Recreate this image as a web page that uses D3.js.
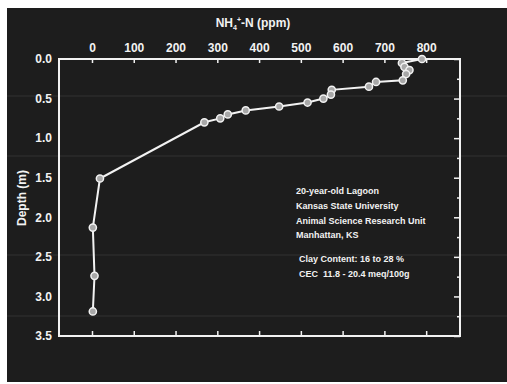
<!DOCTYPE html>
<html>
<head>
<meta charset="utf-8">
<script src="https://cdn.jsdelivr.net/npm/d3@7"></script>
<style>
  body { margin: 0; background: #fff; }
  svg { display: block; }
  text { font-family: "Liberation Sans", Arial, sans-serif; fill: #f2f2f2; white-space: pre; }
</style>
</head>
<body>
<div id="chart"></div>
<script>
// NH4+-N concentration (ppm) against depth (m)
const depth = [0.00, 0.05, 0.10, 0.14, 0.19, 0.27, 0.29, 0.35, 0.39, 0.45, 0.50, 0.55,
               0.60, 0.65, 0.70, 0.75, 0.80, 1.51, 2.13, 2.74, 3.19];
const nh4 = [790, 742, 748, 760, 752, 744, 680, 663, 574, 572, 554, 516,
             448, 368, 325, 307, 269, 19, 2, 6, 2];

const xTicks = [0, 100, 200, 300, 400, 500, 600, 700, 800];
const yTicks = [0.0, 0.5, 1.0, 1.5, 2.0, 2.5, 3.0, 3.5];
const yMinorTicks = [0.25, 0.75, 1.25, 1.75, 2.25, 2.75, 3.25];

const notes = ["20-year-old Lagoon", "Kansas State University",
               "Animal Science Research Unit", "Manhattan, KS"];
const soilNotes = ["Clay Content: 16 to 28 %", "CEC  11.8 - 20.4 meq/100g"];

const W = 507, H = 384;
const margin = {top: 59, right: 47, bottom: 48, left: 59};
const width = W - margin.left - margin.right;
const height = H - margin.top - margin.bottom;

const data = depth.map((d, i) => ({depth: d, value: nh4[i]}));

const svg = d3.select("#chart").append("svg")
  .attr("width", W)
  .attr("height", H);

// dark photographic panel
svg.append("rect")
  .attr("x", 7).attr("y", 8)
  .attr("width", W - 7).attr("height", 374)
  .attr("fill", "#1d1d1d");

// faint scan lines
[96, 156, 255, 316].forEach(y => {
  svg.append("line")
    .attr("x1", 7).attr("x2", W)
    .attr("y1", y).attr("y2", y)
    .attr("stroke", "#333").attr("stroke-width", 1);
});

const g = svg.append("g")
  .attr("transform", "translate(" + margin.left + "," + margin.top + ")");

const xScale = d3.scaleLinear().domain([-79, 881]).range([0, width]);
const yScale = d3.scaleLinear().domain([0, 3.5]).range([0, height]);

// frame
g.append("rect")
  .attr("width", width).attr("height", height)
  .attr("fill", "none")
  .attr("stroke", "#f2f2f2")
  .attr("stroke-width", 2);

function styleAxis(sel) {
  sel.select(".domain").remove();
  sel.selectAll(".tick line").attr("stroke", "#f2f2f2").attr("stroke-width", 1.5);
  sel.selectAll(".tick text")
    .attr("fill", "#f2f2f2")
    .style("font-size", "12px")
    .style("font-weight", "bold");
}

g.append("g")
  .call(d3.axisTop(xScale).tickValues(xTicks).tickSize(-4).tickPadding(7))
  .call(styleAxis);

g.append("g")
  .attr("transform", "translate(0," + height + ")")
  .call(d3.axisBottom(xScale).tickValues(xTicks).tickSize(-5).tickFormat(""))
  .call(styleAxis);

g.append("g")
  .call(d3.axisLeft(yScale).tickValues(yTicks).tickFormat(d3.format(".1f")).tickSize(0).tickPadding(7))
  .call(styleAxis);

g.append("g")
  .attr("transform", "translate(" + width + ",0)")
  .call(d3.axisRight(yScale).tickValues(yTicks).tickSize(-6).tickFormat(""))
  .call(styleAxis);

g.append("g")
  .attr("transform", "translate(" + width + ",0)")
  .call(d3.axisRight(yScale).tickValues(yMinorTicks).tickSize(-3).tickFormat(""))
  .call(styleAxis);

// axis titles
const title = svg.append("text")
  .attr("x", 253).attr("y", 27)
  .attr("text-anchor", "middle")
  .style("font-size", "12px")
  .style("font-weight", "bold");
title.append("tspan").text("NH");
title.append("tspan").attr("dy", 3).style("font-size", "7px").text("4");
title.append("tspan").attr("dy", -8).style("font-size", "7px").text("+");
title.append("tspan").attr("dy", 5).text("-N (ppm)");

svg.append("text")
  .attr("transform", "translate(26,198) rotate(-90)")
  .attr("text-anchor", "middle")
  .style("font-size", "12px")
  .style("font-weight", "bold")
  .text("Depth (m)");

// profile line and markers
const line = d3.line()
  .x(d => xScale(d.value))
  .y(d => yScale(d.depth));

g.append("path")
  .datum(data)
  .attr("d", line)
  .attr("fill", "none")
  .attr("stroke", "#f2f2f2")
  .attr("stroke-width", 2);

g.selectAll(".point")
  .data(data)
  .enter()
  .append("circle")
  .attr("class", "point")
  .attr("cx", d => xScale(d.value))
  .attr("cy", d => yScale(d.depth))
  .attr("r", 3.6)
  .attr("fill", "#a8a8a8")
  .attr("stroke", "#f2f2f2")
  .attr("stroke-width", 1.5);

// site notes
svg.append("g")
  .selectAll("text")
  .data(notes)
  .enter()
  .append("text")
  .attr("x", 296)
  .attr("y", (d, i) => 194 + i * 14.8)
  .style("font-size", "9px")
  .style("font-weight", "bold")
  .text(d => d);

svg.append("g")
  .selectAll("text")
  .data(soilNotes)
  .enter()
  .append("text")
  .attr("x", 299)
  .attr("y", (d, i) => 262 + i * 14.8)
  .style("font-size", "9px")
  .style("font-weight", "bold")
  .text(d => d);
</script>
</body>
</html>
